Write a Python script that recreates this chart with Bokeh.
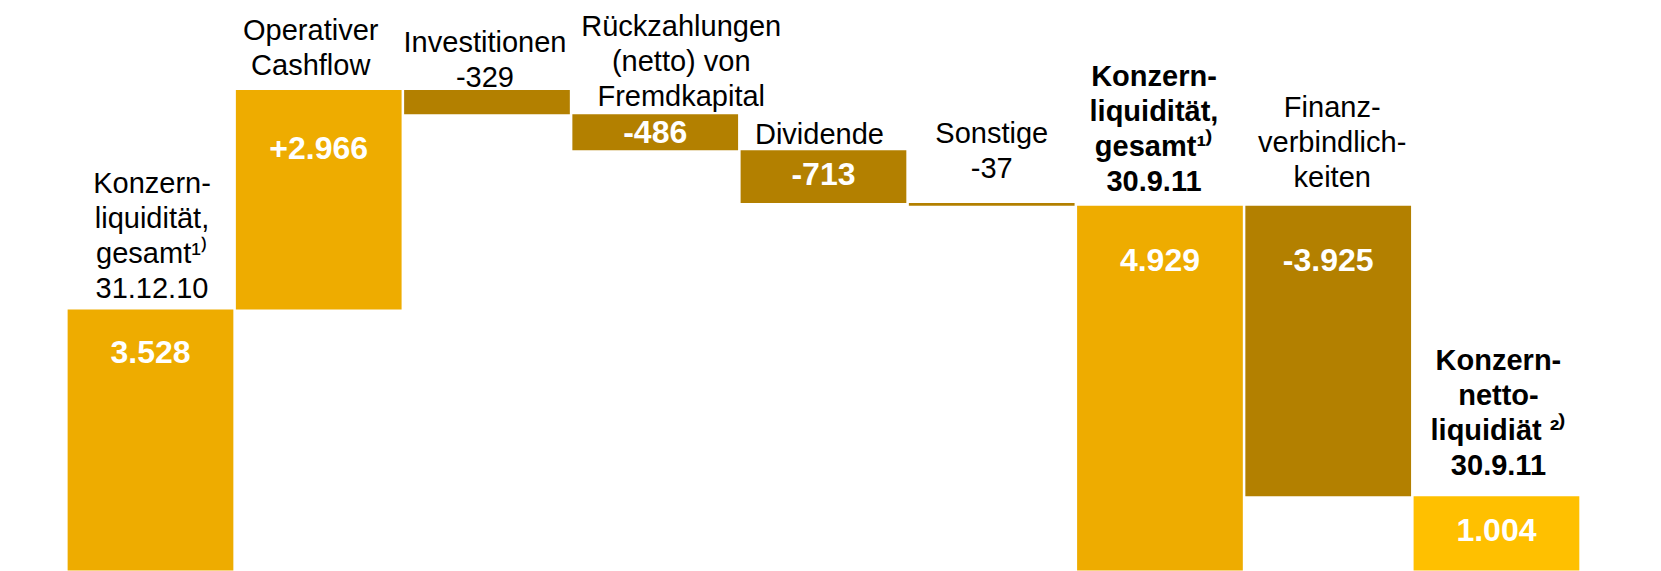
from bokeh.plotting import figure
from bokeh.models import ColumnDataSource, Range1d
from bokeh.embed import file_html
from bokeh.resources import INLINE
from bokeh.core.properties import value

# ---------------- data ----------------
categories = ["Konzernliquidität 31.12.10", "Operativer Cashflow", "Investitionen",
              "Rückzahlungen (netto) von Fremdkapital", "Dividende", "Sonstige",
              "Konzernliquidität 30.9.11", "Finanzverbindlichkeiten",
              "Konzernnettoliquidität 30.9.11"]
kinds = ["total", "delta", "delta", "delta", "delta", "delta", "total", "delta", "total"]
values = [3528, 2966, -329, -486, -713, -37, 4929, -3925, 1004]
value_texts = ["3.528", "+2.966", "", "-486", "-713", "", "4.929", "-3.925", "1.004"]
label_lines = [
    ["Konzern-", "liquidität,", "gesamt¹⁾", "31.12.10"],
    ["Operativer", "Cashflow"],
    ["Investitionen", "-329"],
    ["Rückzahlungen", "(netto) von", "Fremdkapital"],
    ["Dividende"],
    ["Sonstige", "-37"],
    ["Konzern-", "liquidität,", "gesamt¹⁾", "30.9.11"],
    ["Finanz-", "verbindlich-", "keiten"],
    ["Konzern-", "netto-", "liquidiät ²⁾", "30.9.11"],
]
label_bold = [False, False, False, False, False, False, True, False, True]

# ---------------- styles ----------------
GOLD = "#EEAC00"
DARK = "#B38000"
BRIGHT = "#FFC000"
bar_colors = [GOLD, GOLD, DARK, DARK, DARK, DARK, GOLD, DARK, BRIGHT]
TEXT_FIX = 8      # renderer places alphabetic baseline a bit low
VALUE_FIX = 11
label_gap_px = [13, 16.7, 5.4, 10.5, 8.1, 27.5, 17, 20.3, 23]
label_dx_px = [1.5, -8, -2, 26, -4, 0, -6, 4, 2]
value_off_px = [53.5, 69, 0, 29, 35, 0, 65, 65, 45]
LINE_PX = 35

W, H = 1661, 571
X0, X1 = -0.8915, 8.981
Y0, Y1 = -13.5, 7702.7
ux = (X1 - X0) / W
uy = (Y1 - Y0) / H

# ---------------- waterfall geometry ----------------
xs, bottoms, tops = [], [], []
running = 0
for i, (k, v) in enumerate(zip(kinds, values)):
    xs.append(i)
    if k == "total":
        bottoms.append(0)
        tops.append(v)
        running = v
    else:
        end = running + v
        bottoms.append(min(running, end))
        tops.append(max(running, end))
        running = end

p = figure(width=W, height=H, x_range=Range1d(X0, X1), y_range=Range1d(Y0, Y1),
           output_backend="svg", toolbar_location=None,
           x_axis_location=None, y_axis_location=None, min_border=0)
p.outline_line_color = None
p.grid.visible = False
p.background_fill_color = "white"
p.border_fill_color = "white"

src = ColumnDataSource(dict(x=xs, bottom=bottoms, top=tops, color=bar_colors))
p.vbar(x="x", bottom="bottom", top="top", width=0.985, fill_color="color",
       line_color=None, source=src)

# category labels (one glyph per line)
for bold in (False, True):
    lx, ly, lt = [], [], []
    for i, lines in enumerate(label_lines):
        if label_bold[i] != bold:
            continue
        n = len(lines)
        for j, t in enumerate(lines):
            k = n - 1 - j
            lx.append(xs[i] + label_dx_px[i] * ux)
            ly.append(tops[i] + (label_gap_px[i] + TEXT_FIX + k * LINE_PX) * uy)
            lt.append(t)
    p.text(x=lx, y=ly, text=lt, text_align="center", text_baseline="alphabetic",
           text_font=value("Liberation Sans"), text_font_size="29px",
           text_font_style="bold" if bold else "normal", text_color="black")

# values inside bars
vx, vy, vt = [], [], []
for i, t in enumerate(value_texts):
    if not t:
        continue
    vx.append(xs[i])
    vy.append(tops[i] - (value_off_px[i] - VALUE_FIX) * uy)
    vt.append(t)
p.text(x=vx, y=vy, text=vt, text_align="center", text_baseline="alphabetic",
       text_font=value("Liberation Sans"), text_font_size="32px",
       text_font_style="bold", text_color="white")

open("out.html", "w").write(file_html(p, INLINE))
